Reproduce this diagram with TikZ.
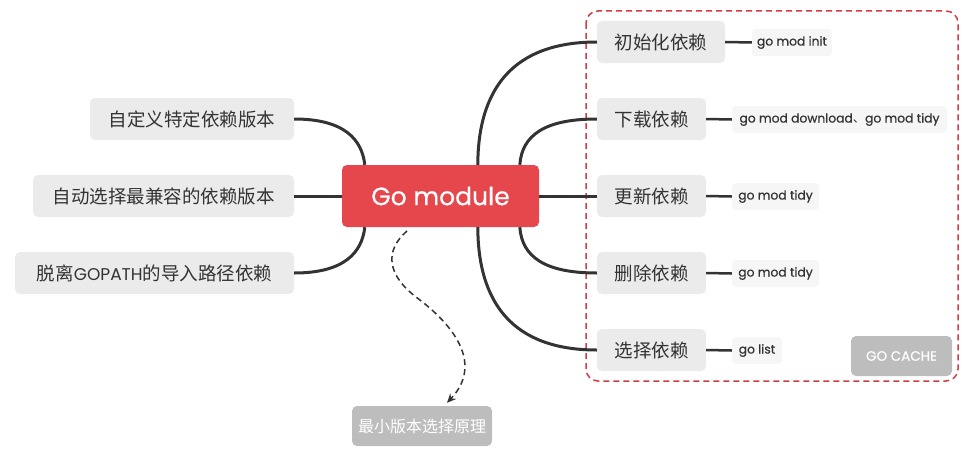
\documentclass[tikz,border=0pt]{standalone}
\usepackage{fontspec}
\setmainfont{Noto Sans CJK SC}
\newfontfamily\lat[FakeBold=0.6]{Poppins}
\newfontfamily\latr{Poppins}
\usetikzlibrary{calc,arrows.meta}
\definecolor{redmain}{HTML}{E5474C}
\definecolor{boxgray}{HTML}{EBEBEB}
\definecolor{leafgray}{HTML}{F6F6F6}
\definecolor{darkgray}{HTML}{BDBDBD}
\definecolor{txt}{HTML}{333333}
\definecolor{line}{HTML}{333333}
\definecolor{frame}{HTML}{D03C46}
\tikzset{
  topic/.style={fill=boxgray,rounded corners=5pt,inner sep=0pt,minimum height=42pt,text=txt,font=\fontsize{18.5}{20}\selectfont},
  leaf/.style={fill=leafgray,rounded corners=4pt,inner sep=0pt,minimum height=27pt,text=txt,font=\fontsize{12.3}{14}\selectfont\lat},
  conn/.style={draw=line,line width=3pt},
  leafconn/.style={draw=line,line width=2.5pt},
  graybox/.style={fill=darkgray,rounded corners=5pt,inner sep=0pt,minimum height=40pt,text=white}
}
\begin{document}
\begin{tikzpicture}[x=1pt,y=-1pt]
\useasboundingbox (0,0) rectangle (965,452);
% frame
\draw[frame,line width=1.5pt,rounded corners=12pt,dash pattern=on 6pt off 4pt] (586,11) rectangle (958,381);
% center
\node[fill=redmain,rounded corners=5pt,minimum width=197pt,minimum height=62pt,inner sep=0pt,text=white,font=\fontsize{25}{30}\selectfont\lat] (C) at (440.5,196) {Go module};
% left topics
\node[topic,minimum width=204pt] (L1) at (192,119) {自定义特定依赖版本};
\node[topic,minimum width=261pt] (L2) at (163.5,196) {自动选择最兼容的依赖版本};
\node[topic,minimum width=279pt] (L3) at (154.5,273) {脱离{\latr\fontsize{17}{20}\selectfont GOPATH}的导入路径依赖};
% right topics
\node[topic,minimum width=128pt] (R1) at (661,42) {初始化依赖};
\node[topic,minimum width=109pt] (R2) at (651.5,119) {下载依赖};
\node[topic,minimum width=109pt] (R3) at (651.5,196) {更新依赖};
\node[topic,minimum width=109pt] (R4) at (651.5,273) {删除依赖};
\node[topic,minimum width=109pt] (R5) at (651.5,350) {选择依赖};
% leaves
\node[leaf,minimum width=80pt] (S1) at (792,42.5) {go mod init};
\node[leaf,minimum width=215pt] (S2) at (839.5,119.5) {go mod download{\rmfamily 、}go mod tidy};
\node[leaf,minimum width=87pt] (S3) at (775.5,196.5) {go mod tidy};
\node[leaf,minimum width=87pt] (S4) at (775.5,273.5) {go mod tidy};
\node[leaf,minimum width=50pt] (S5) at (757,350.5) {go list};
% gray boxes
\node[graybox,minimum width=101pt,font=\fontsize{13.5}{16}\selectfont\lat] (GC) at (901.5,356) {GO CACHE};
\node[graybox,minimum width=140pt,font=\fontsize{16}{17}\selectfont] (M) at (422,426) {最小版本选择原理};
% anchor coordinates on center
\coordinate (CtL) at ($(C.north west)+(23,0)$);
\coordinate (CbL) at ($(C.south west)+(23,0)$);
\coordinate (Ct1) at ($(C.north west)+(136,0)$);
\coordinate (Ct2) at ($(C.north west)+(178,0)$);
\coordinate (Cb1) at ($(C.south west)+(136,0)$);
\coordinate (Cb2) at ($(C.south west)+(178,0)$);
% left connectors
\draw[conn] (L1.east) .. controls (345,119) and (362,140) .. (CtL);
\draw[conn] (L2.east) -- (C.west);
\draw[conn] (L3.east) .. controls (345,273) and (362,252) .. (CbL);
% right connectors
\draw[conn] (Ct1) .. controls (478,90) and (512,42) .. (R1.west);
\draw[conn] (Ct2) .. controls (522,135) and (545,119) .. (R2.west);
\draw[conn] (C.east) -- (R3.west);
\draw[conn] (Cb2) .. controls (522,257) and (545,273) .. (R4.west);
\draw[conn] (Cb1) .. controls (478,302) and (512,350) .. (R5.west);
% leaf connectors
\draw[leafconn] (R1.east) -- (S1.west);
\draw[leafconn] (R2.east) -- (S2.west);
\draw[leafconn] (R3.east) -- (S3.west);
\draw[leafconn] (R4.east) -- (S4.west);
\draw[leafconn] (R5.east) -- (S5.west);
% dashed arrow
\coordinate (DS) at (407,231);
\coordinate (DE) at ($(M.north)+(25,-3)$);
\draw[line,line width=1.5pt,dash pattern=on 6pt off 4pt,-{Stealth[length=9pt,width=8pt]}] (DS) .. controls (385,250) and (385,275) .. (420,300) .. controls (465,335) and (478,370) .. (DE);
\end{tikzpicture}
\end{document}
